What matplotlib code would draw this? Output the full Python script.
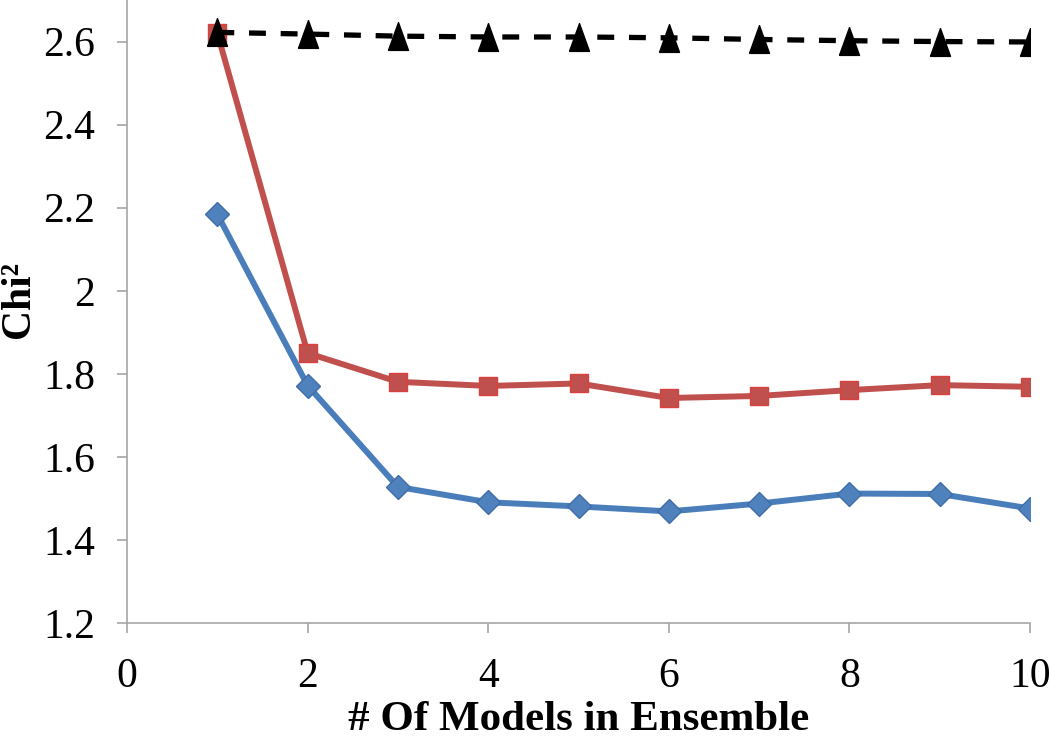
import matplotlib
matplotlib.use("Agg")
import matplotlib.pyplot as plt

# Datos
modelos = [1, 2, 3, 4, 5, 6, 7, 8, 9, 10]
chi_azul = [2.184, 1.772, 1.528, 1.491, 1.481, 1.469, 1.488, 1.512, 1.511, 1.476]
chi_rojo = [2.62, 1.850, 1.781, 1.771, 1.777, 1.742, 1.747, 1.761, 1.773, 1.769]
chi_negro = [2.622, 2.618, 2.613, 2.611, 2.611, 2.609, 2.605, 2.602, 2.600, 2.599]
xticks = [0, 2, 4, 6, 8, 10]
yticks = [1.2, 1.4, 1.6, 1.8, 2.0, 2.2, 2.4, 2.6]
ytick_labels = ["1.2", "1.4", "1.6", "1.8", "2", "2.2", "2.4", "2.6"]

plt.rcParams['font.family'] = ['Liberation Serif', 'DejaVu Serif']

fig = plt.figure(figsize=(10.5, 7.41), dpi=100)
ax = fig.add_axes([0.121, 0.159, 0.860, 0.841])

# triangulo alto y estrecho como en la figura original
triangulo = [(-0.72, -1.0), (0.72, -1.0), (0.0, 1.0), (-0.72, -1.0)]

ax.plot(modelos, chi_azul, '-', color='#4A7EBB', lw=4.3, marker='D', ms=12,
        markerfacecolor='#4F81BD', markeredgecolor='#3F6DA8', zorder=3)
ax.plot(modelos, chi_rojo, '-', color='#C0504D', lw=4.3, marker='s', ms=13,
        markerfacecolor='#C0504D', markeredgecolor='#D9413E', zorder=3)
ax.plot(modelos, chi_negro, '--', color='black', lw=3.8, marker=triangulo, ms=20,
        dashes=(3.2, 2.8), zorder=4)

ax.set_xlim(0, 10)
ax.set_ylim(1.2, 2.7)
ax.set_xticks(xticks)
ax.set_yticks(yticks)
ax.set_yticklabels(ytick_labels)

for lado in ['top', 'right']:
    ax.spines[lado].set_visible(False)
for lado in ['left', 'bottom']:
    ax.spines[lado].set_color('#A6A6A6')
    ax.spines[lado].set_linewidth(1.2)
ax.tick_params(axis='both', colors='#A6A6A6', length=7, width=1.2,
               labelsize=30, labelcolor='black')
ax.tick_params(axis='x', pad=18)
ax.tick_params(axis='y', pad=16)

ax.set_xlabel('# Of Models in Ensemble', fontsize=31, fontweight='bold')
ax.xaxis.set_label_coords(0.5, -0.125)
ax.set_ylabel('Chi²', fontsize=30, fontweight='bold')
ax.yaxis.set_label_coords(-0.099, 0.52)

fig.savefig('out.png', dpi=100)
